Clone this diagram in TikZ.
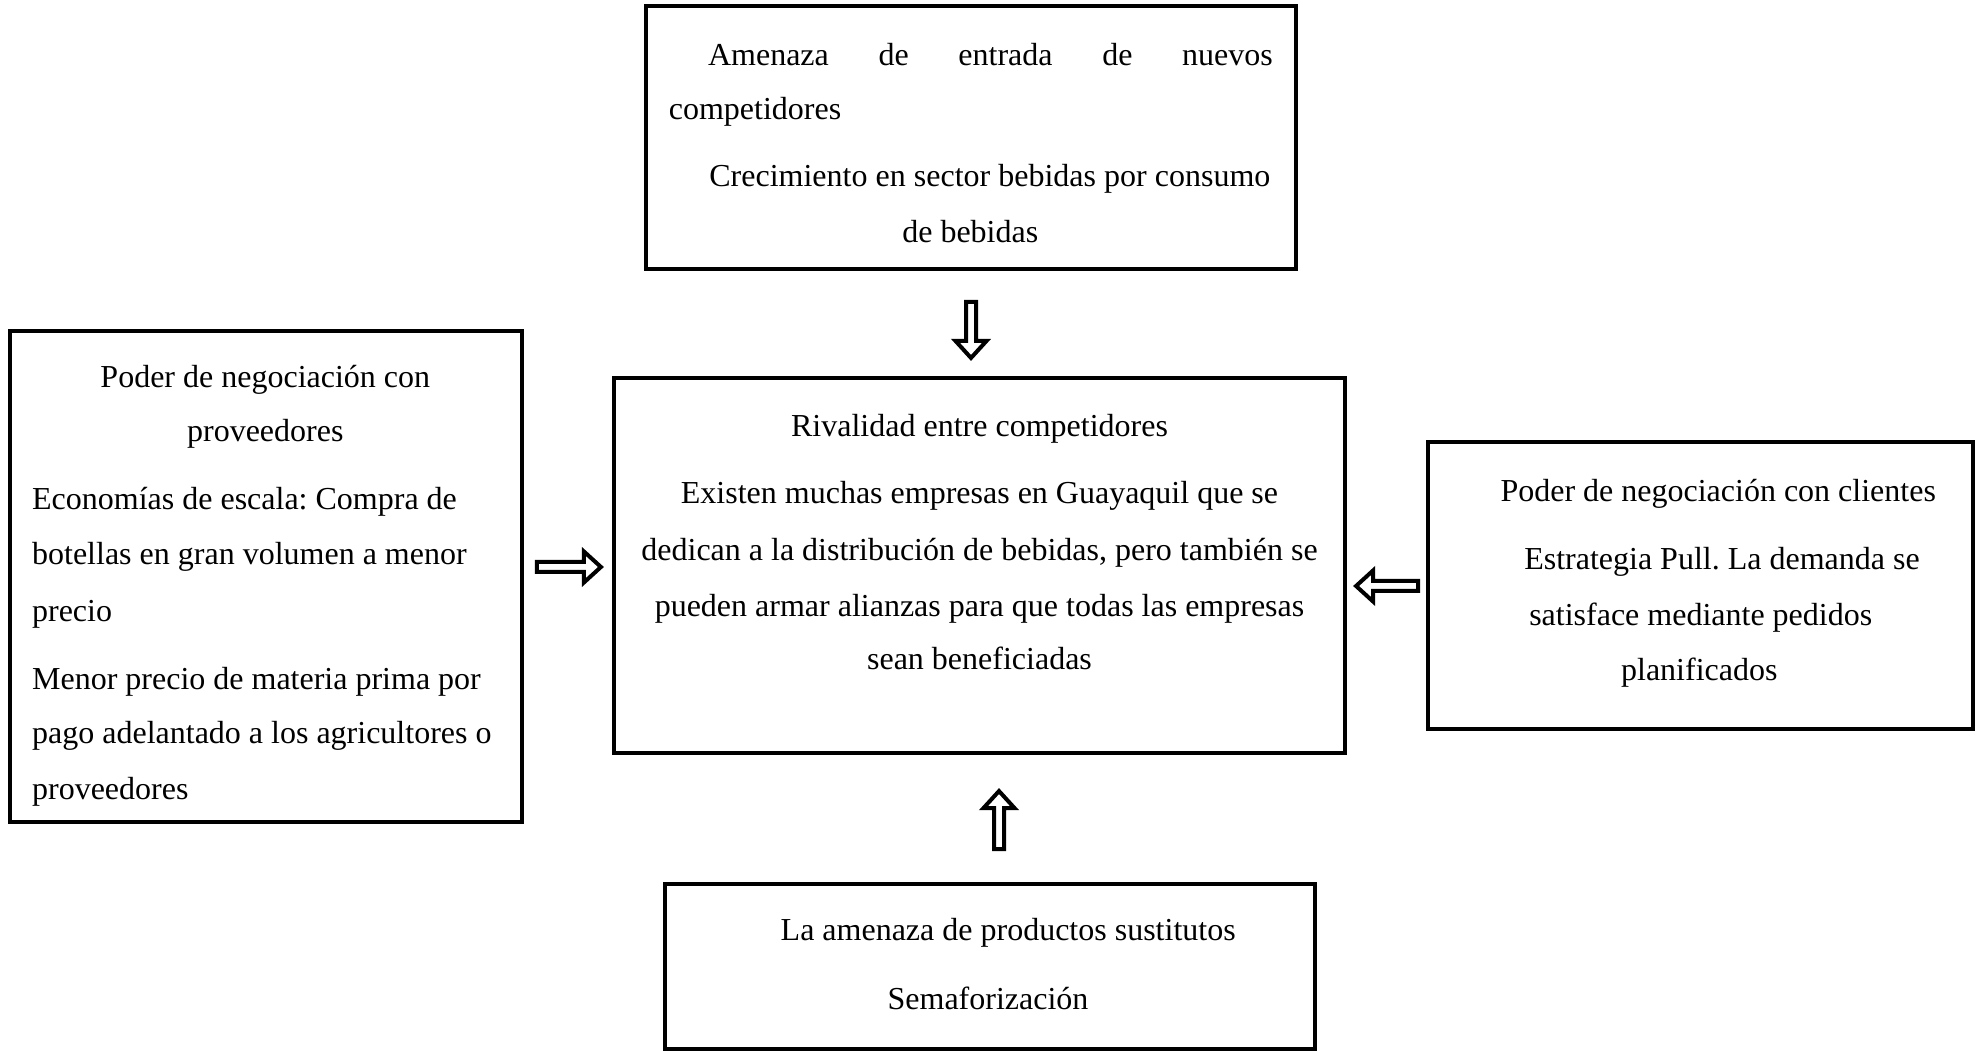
\documentclass[tikz,border=0pt]{standalone}
\usepackage{fontspec}
\setmainfont{Liberation Serif}
\frenchspacing
\usetikzlibrary{calc}
\begin{document}
\begin{tikzpicture}[x=0.375pt,y=-0.375pt,
  frame/.style={draw=black, line width=1.45pt, inner sep=0pt},
  boxwh/.style 2 args={minimum width=#1*0.375pt, minimum height=#2*0.375pt},
  txt/.style={inner sep=0pt, font=\fontsize{12}{14}\selectfont},
  pics/harrow/.style={code={
    \draw[line width=1.5pt, fill=white, line join=miter]
      (0,-5) -- (#1-17,-5) -- (#1-17,-15.5) -- (#1,0) -- (#1-17,15.5)
      -- (#1-17,5) -- (0,5) -- cycle;}}]
\useasboundingbox (0,0) rectangle (1981,1051);

% the five forces
\node[frame, boxwh={650}{263}] (top) at (971,137.5) {};
\node[frame, boxwh={512}{491}] (prov) at (266,576.5) {};
\node[frame, boxwh={731}{375}] (riv) at (979.5,565.5) {};
\node[frame, boxwh={545}{287}] (cli) at (1700.5,585.5) {};
\node[frame, boxwh={650}{165}] (sust) at (990,966.5) {};

% new entrants
\node[txt, anchor=mid west] (t1) at (707.5,59) {\makebox[211.8pt][s]{Amenaza de entrada de nuevos}};
\node[txt, anchor=mid west] (t2) at (668.3,113.5) {competidores};
\node[txt, anchor=mid west] (t3) at (708.8,180.5) {\makebox[210.4pt][s]{Crecimiento en sector bebidas por consumo}};
\node[txt, anchor=mid] (t4) at (970.3,236) {de bebidas};

% suppliers
\node[txt, anchor=mid] (p1) at (265.3,381) {Poder de negociación con};
\node[txt, anchor=mid] (p2) at (265.3,435.5) {proveedores};
\node[txt, anchor=mid west] (p3) at (31.6,503.5) {Economías de escala: Compra de};
\node[txt, anchor=mid west] (p4) at (31.6,558) {botellas en gran volumen a menor};
\node[txt, anchor=mid west] (p5) at (31.6,615) {precio};
\node[txt, anchor=mid west] (p6) at (31.6,683) {Menor precio de materia prima por};
\node[txt, anchor=mid west] (p7) at (31.6,737.5) {pago adelantado a los agricultores o};
\node[txt, anchor=mid west] (p8) at (31.6,793) {proveedores};

% rivalry
\node[txt, anchor=mid] (r1) at (979.5,430.5) {Rivalidad entre competidores};
\node[txt, anchor=mid] (r2) at (979.5,497.5) {Existen muchas empresas en Guayaquil que se};
\node[txt, anchor=mid] (r3) at (979.5,554.5) {dedican a la distribución de bebidas, pero también se};
\node[txt, anchor=mid] (r4) at (979.5,610) {pueden armar alianzas para que todas las empresas};
\node[txt, anchor=mid] (r5) at (979.5,663) {sean beneficiadas};

% customers
\node[txt, anchor=mid] (c1) at (1718.2,495) {Poder de negociación con clientes};
\node[txt, anchor=mid west] (c2) at (1523.7,563) {Estrategia Pull. La demanda se};
\node[txt, anchor=mid west] (c3) at (1528.7,619) {satisface mediante pedidos};
\node[txt, anchor=mid] (c4) at (1699.3,674.5) {planificados};

% substitutes
\node[txt, anchor=mid] (s1) at (1008.2,934.5) {La amenaza de productos sustitutos};
\node[txt, anchor=mid] (s2) at (988,1003) {Semaforización};

% hollow block arrows pointing at the rivalry box
\coordinate (aTop) at ($(top.south)+(0,31)$);
\coordinate (aProv) at ($(prov.east)+(13,-9.5)$);
\coordinate (aCli) at ($(cli.west)+(-8,0.5)$);
\coordinate (aSust) at ($(sust.north)+(9,-33)$);
\pic[rotate=-90] at (aTop) {harrow=56};
\pic at (aProv) {harrow=64};
\pic[rotate=180] at (aCli) {harrow=62};
\pic[rotate=90] at (aSust) {harrow=58};
\end{tikzpicture}
\end{document}
